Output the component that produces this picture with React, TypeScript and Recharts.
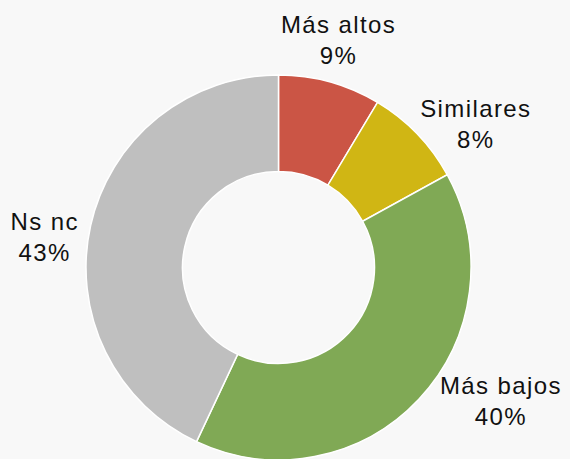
import { PieChart, Pie, Cell } from "recharts";

const categories = ["Más altos", "Similares", "Más bajos", "Ns nc"];
const shares = [8.6, 8.4, 40, 43];

const COLORS = ["#CB5545", "#D0B614", "#80A955", "#BFBFBF"];
// per-slice nudge of the label block away from the plain radial position
const LABEL_NUDGE: [number, number][] = [
  [-3, 0],
  [27, 21],
  [50, -28],
  [-3, 21],
];

const RADIAN = Math.PI / 180;

const data = categories.map((name, i) => ({ name, value: shares[i] }));

function renderLabel(props: any) {
  const { cx, cy, midAngle, outerRadius, index } = props;
  const r = outerRadius + 44;
  const x = cx + r * Math.cos(-midAngle * RADIAN) + LABEL_NUDGE[index][0];
  const y = cy + r * Math.sin(-midAngle * RADIAN) + LABEL_NUDGE[index][1];
  return (
    <text
      x={x}
      y={y}
      textAnchor="middle"
      fill="#111"
      fontSize={24}
      fontFamily="'Liberation Sans', Arial, sans-serif"
      letterSpacing={1.4}
    >
      <tspan x={x} dy={-7}>{categories[index]}</tspan>
      <tspan x={x} dy={31}>{Math.round(shares[index]) + "%"}</tspan>
    </text>
  );
}

export default function App() {
  return (
    <div style={{ width: 570, height: 459, background: "#F8F8F8" }}>
      <style>{`body{margin:0}`}</style>
      <PieChart width={570} height={459} margin={{ top: 0, right: 0, bottom: 0, left: 0 }}>
        <Pie
          data={data}
          dataKey="value"
          nameKey="name"
          cx={278.5}
          cy={267.5}
          innerRadius={96}
          outerRadius={192.5}
          startAngle={90}
          endAngle={-270}
          stroke="#FFFFFF"
          strokeWidth={1.5}
          label={renderLabel}
          labelLine={false}
          isAnimationActive={false}
        >
          {data.map((_, i) => (
            <Cell key={i} fill={COLORS[i]} />
          ))}
        </Pie>
      </PieChart>
    </div>
  );
}
